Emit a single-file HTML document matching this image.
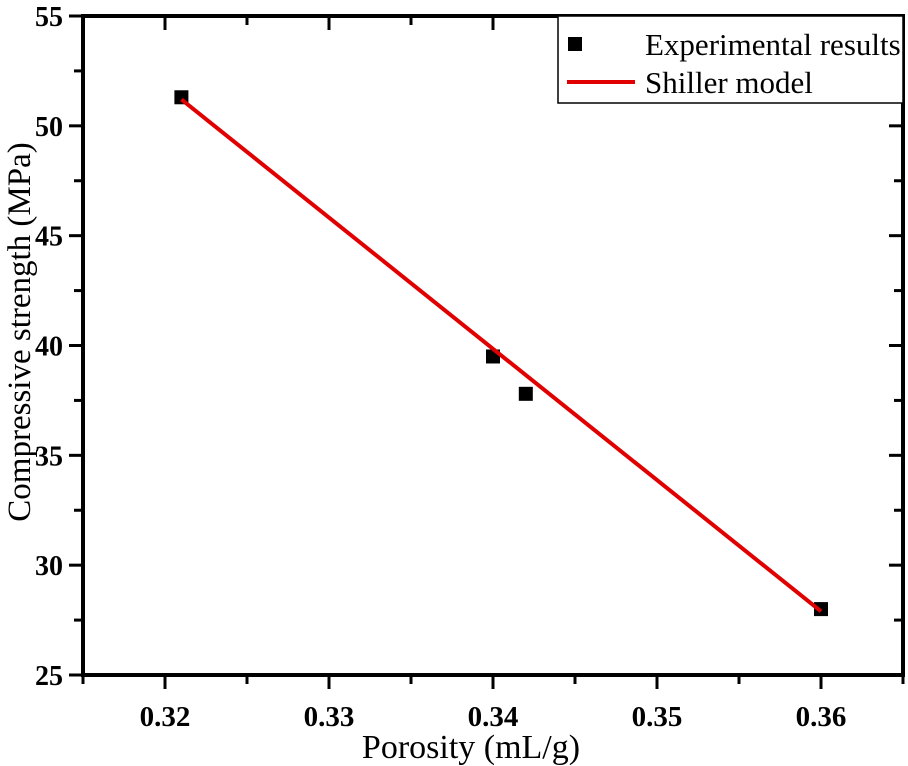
<!DOCTYPE html>
<html><head><meta charset="utf-8"><style>
body{margin:0;background:#fff}
svg{display:block;font-family:"Liberation Serif",serif}
</style></head><body>
<svg id="c" width="908" height="766"></svg>
<script>
const xTicks=[0.32,0.33,0.34,0.35,0.36];
const yTicks=[25,30,35,40,45,50,55];
const expX=[0.321,0.340,0.342,0.360];
const expY=[51.3,39.5,37.8,28.0];
const modelX=[0.321,0.360];
const modelY=[51.2,27.9];
const L=83,R=903,T=16,B=675,x0=0.315,x1=0.365,y0=25,y1=55;
const sx=v=>L+(v-x0)/(x1-x0)*(R-L), sy=v=>B-(v-y0)/(y1-y0)*(B-T);
const svg=document.getElementById('c'),NS='http://www.w3.org/2000/svg';
function mk(t,a,p){const e=document.createElementNS(NS,t);for(const k in a)e.setAttribute(k,a[k]);(p||svg).appendChild(e);return e;}
let e;
e=mk('rect',{x:L,y:T,width:R-L,height:B-T,fill:'none',stroke:'#000','stroke-width':4});


for(let v=0.315;v<=0.3651;v+=0.005){const x=sx(v);const major=xTicks.some(t=>Math.abs(t-v)<1e-6);const len=major?14:9;
e=mk('line',{x1:x,x2:x,y1:B,y2:B+len,stroke:'#000','stroke-width':3});


e=mk('line',{x1:x,x2:x,y1:T,y2:T+len,stroke:'#000','stroke-width':3});

}
xTicks.forEach(v=>{e=mk('text',{x:sx(v),y:B+51,'text-anchor':'middle','font-size':29,'font-weight':'bold'});e.textContent=v.toFixed(2);

});
for(let v=25;v<=55.01;v+=2.5){const y=sy(v);const major=yTicks.includes(v);const len=major?14:9;
e=mk('line',{x1:L-len,x2:L,y1:y,y2:y,stroke:'#000','stroke-width':3});


e=mk('line',{x1:R-len,x2:R,y1:y,y2:y,stroke:'#000','stroke-width':3});

}
yTicks.forEach(v=>{e=mk('text',{x:L-20,y:sy(v)+10,'text-anchor':'end','font-size':28,'font-weight':'bold'});e.textContent=v;

});
e=mk('text',{x:471,y:758,'text-anchor':'middle','font-size':34});e.textContent='Porosity (mL/g)';


e=mk('text',{x:0,y:0,'text-anchor':'middle','font-size':33,transform:`translate(30,332) rotate(-90)`});e.textContent='Compressive strength (MPa)';


expX.forEach((v,i)=>{e=mk('rect',{x:sx(v)-7,y:sy(expY[i])-7,width:14,height:14,fill:'#000'});

});
e=mk('polyline',{points:modelX.map((v,i)=>sx(v)+','+sy(modelY[i])).join(' '),fill:'none',stroke:'#e00000','stroke-width':4});


const g=mk('g',{});


mk('rect',{x:558,y:T,width:R-558,height:87,fill:'#fff',stroke:'#000','stroke-width':1.5},g);
e=mk('rect',{x:568,y:37,width:14,height:14,fill:'#000'},g);


e=mk('text',{x:645,y:55,'font-size':31},g);e.textContent='Experimental results';


e=mk('line',{x1:567,x2:635,y1:82,y2:82,stroke:'#e00000','stroke-width':4},g);


e=mk('text',{x:645,y:93,'font-size':31},g);e.textContent='Shiller model';


</script>
</body></html>
